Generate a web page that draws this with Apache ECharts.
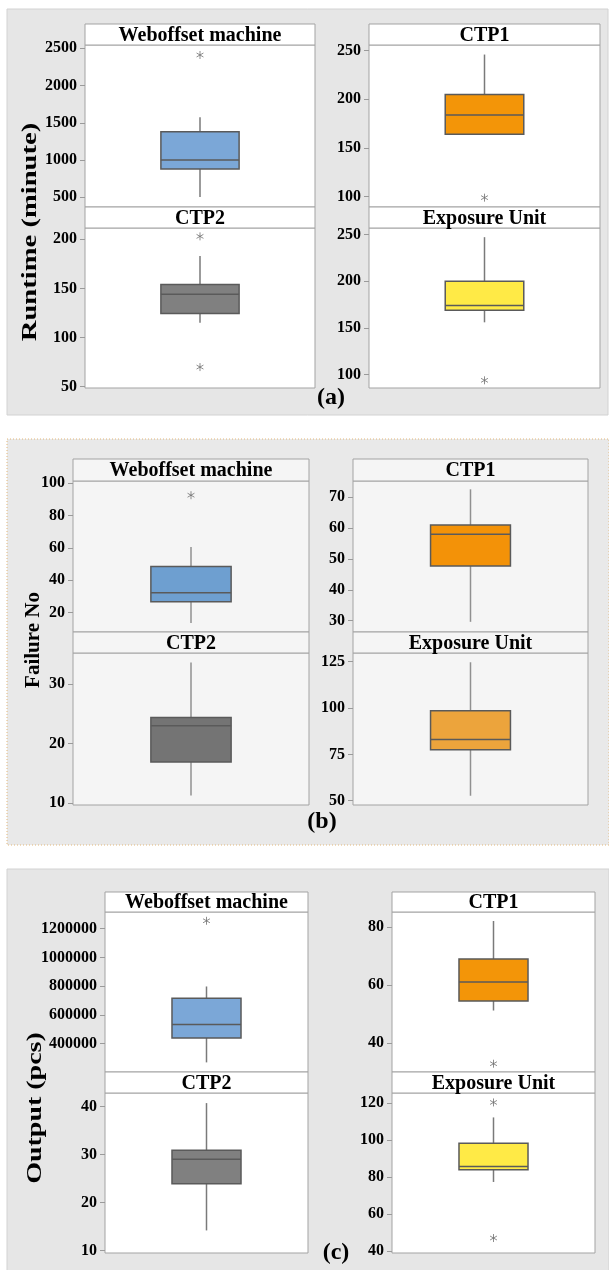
<!DOCTYPE html>
<html style="height: 100%">
<head>
<meta charset="utf-8">
<script src="https://cdn.jsdelivr.net/npm/echarts@6/dist/echarts.min.js"></script>
</head>
<body style="height: 100%; margin: 0; background: #fff">
<div id="container" style="width: 609px; height: 1270px"></div>
<script type="text/javascript">
// machines, same order in every panel: top-left, top-right, bottom-left, bottom-right
const machines = ['Weboffset machine', 'CTP1', 'CTP2', 'Exposure Unit'];
const panelTags = ['(a)', '(b)', '(c)'];
const yTitles = ['Runtime (minute)', 'Failure No', 'Output (pcs)'];

// box values: [lower whisker, Q1, median, Q3, upper whisker]
const runtimeBoxes = [
    [505, 879, 1000, 1380, 1573],
    [164, 164, 184, 205, 246],
    [115, 124.5, 144, 154, 183],
    [156, 169, 174, 200, 247]
];
const runtimeOutliers = [[2410], [99], [203, 70], [94]];
const runtimeRanges = [[370, 2544], [89.4, 255.8], [48.7, 211.5], [85.8, 256.8]];
const runtimeTicks = [
    [500, 1000, 1500, 2000, 2500],
    [100, 150, 200, 250],
    [50, 100, 150, 200],
    [100, 150, 200, 250]
];

const failureBoxes = [
    [13.4, 26.6, 32.2, 48.4, 60.6],
    [29.6, 47.7, 58, 61, 72.6],
    [11.3, 16.9, 23, 24.4, 33.6],
    [52.7, 77.5, 83, 98.5, 124.7]
];
const failureOutliers = [[92.6], [], [], []];
const failureRanges = [[7.9, 101.4], [26.3, 75.3], [9.7, 35.2], [47.7, 129.7]];
const failureTicks = [
    [20, 40, 60, 80, 100],
    [30, 40, 50, 60, 70],
    [10, 20, 30],
    [50, 75, 100, 125]
];

const outputBoxes = [
    [270000, 440000, 533000, 716000, 798000],
    [51.2, 54.5, 61, 68.9, 82],
    [14.2, 23.9, 29, 30.9, 40.7],
    [77.3, 83.9, 85.7, 98.2, 112.2]
];
const outputOutliers = [[1255000], [32.9], [], [120.3, 47]];
const outputRanges = [[203100, 1316000], [30.05, 85.1], [9.5, 42.8], [38.9, 125.4]];
const outputTicks = [
    [400000, 600000, 800000, 1000000, 1200000],
    [40, 60, 80],
    [10, 20, 30, 40],
    [40, 60, 80, 100, 120]
];

const allBoxes = [runtimeBoxes, failureBoxes, outputBoxes];
const allOutliers = [runtimeOutliers, failureOutliers, outputOutliers];
const allRanges = [runtimeRanges, failureRanges, outputRanges];
const allTicks = [runtimeTicks, failureTicks, outputTicks];

// page layout (pixels)
const layouts = [
    {bg: [7, 9, 601, 406], cols: [[85, 230], [369, 231]], rows: [[24, 45, 207], [207, 228, 388]],
     ylab: [30, 232, 22, 1.3], tag: [331, 398], plotBg: '#ffffff', panelBg: '#e6e6e6', panelLine: '#d2d2d2', dash: null,
     colors: ['#7ba7d7', '#f39508', '#808080', '#ffea46'], whisker: '#7a7a7a'},
    {bg: [7, 439, 602, 406], cols: [[73, 236], [353, 235]], rows: [[459, 481, 632], [632, 653, 805]],
     ylab: [34, 640, 21, 1.0], tag: [322, 822], plotBg: '#f5f5f5', panelBg: '#e9e9e9', panelLine: '#e2b77a', dash: [1, 2],
     colors: ['#6e9fd0', '#f39208', '#747474', '#eca43c'], whisker: '#909090'},
    {bg: [7, 869, 602, 402], cols: [[105, 203], [392, 203]], rows: [[892, 912, 1072], [1072, 1093, 1253]],
     ylab: [36, 1108, 20, 1.4], tag: [336, 1253], plotBg: '#ffffff', panelBg: '#e6e6e6', panelLine: '#d2d2d2', dash: null,
     colors: ['#7ba7d7', '#f39508', '#808080', '#ffea46'], whisker: '#7a7a7a'}
];

const serif = "'Liberation Serif', 'Times New Roman', serif";
const asterisk = 'path://M5,0L5,10M0.7,2.5L9.3,7.5M0.7,7.5L9.3,2.5';

function makeRenderBox(whiskerColor) {
    return function (params, api) {
        const x = api.value(0);
        const p = [1, 2, 3, 4, 5].map(function (i) { return api.coord([x, api.value(i)]); });
        const cx = p[0][0];
        const half = api.size([1, 0])[0] * 0.17;
        const fill = api.visual('color');
        const edge = '#5a5a5a';
        return {
            type: 'group',
            children: [
                {type: 'line', shape: {x1: cx, y1: p[0][1], x2: cx, y2: p[1][1]}, style: {stroke: whiskerColor, lineWidth: 1.5}},
                {type: 'line', shape: {x1: cx, y1: p[3][1], x2: cx, y2: p[4][1]}, style: {stroke: whiskerColor, lineWidth: 1.5}},
                {type: 'rect', shape: {x: cx - half, y: p[3][1], width: half * 2, height: p[1][1] - p[3][1]},
                 style: {fill: fill, stroke: edge, lineWidth: 1.5}},
                {type: 'line', shape: {x1: cx - half, y1: p[2][1], x2: cx + half, y2: p[2][1]}, style: {stroke: edge, lineWidth: 1.5}}
            ]
        };
    };
}

const grids = [], xAxes = [], yAxes = [], series = [], graphics = [];

for (let p = 0; p < 3; p++) {
    const L = layouts[p];
    graphics.push({
        type: 'rect', z: -10, shape: {x: L.bg[0], y: L.bg[1], width: L.bg[2], height: L.bg[3]},
        style: {fill: L.panelBg, stroke: L.panelLine, lineWidth: 1, lineDash: L.dash}
    });
    graphics.push({
        type: 'text', x: L.ylab[0], y: L.ylab[1], rotation: Math.PI / 2, scaleX: L.ylab[3],
        style: {text: yTitles[p], font: 'bold ' + L.ylab[2] + 'px ' + serif, fill: '#000',
                align: 'center', verticalAlign: 'middle', textAlign: 'center', textVerticalAlign: 'middle'}
    });
    graphics.push({
        type: 'text', x: L.tag[0], y: L.tag[1],
        style: {text: panelTags[p], font: 'bold 24px ' + serif, fill: '#000',
                align: 'center', verticalAlign: 'middle', textAlign: 'center', textVerticalAlign: 'middle'}
    });

    for (let m = 0; m < 4; m++) {
        const idx = grids.length;
        const col = L.cols[m % 2];
        const row = L.rows[Math.floor(m / 2)];
        grids.push({
            left: col[0], top: row[1], width: col[1], height: row[2] - row[1],
            show: true, backgroundColor: L.plotBg, borderColor: '#a3a3a3', borderWidth: 1,
            containLabel: false, outerBoundsMode: 'none'
        });
        // header strip with the machine name
        graphics.push({
            type: 'rect', z: 5, shape: {x: col[0], y: row[0], width: col[1], height: row[1] - row[0]},
            style: {fill: L.plotBg, stroke: '#a3a3a3', lineWidth: 1}
        });
        graphics.push({
            type: 'text', z: 6, x: col[0] + col[1] / 2, y: (row[0] + row[1]) / 2 + 1,
            style: {text: machines[m], font: 'bold 20px ' + serif, fill: '#000',
                    align: 'center', verticalAlign: 'middle', textAlign: 'center', textVerticalAlign: 'middle'}
        });

        xAxes.push({type: 'category', gridIndex: idx, data: [machines[m]], show: false});
        yAxes.push({
            type: 'value', gridIndex: idx,
            min: allRanges[p][m][0], max: allRanges[p][m][1],
            axisLine: {show: false},
            splitLine: {show: false},
            axisTick: {show: true, length: 5, customValues: allTicks[p][m], lineStyle: {color: '#9a9a9a'}},
            axisLabel: {
                customValues: allTicks[p][m], margin: 8, color: '#000',
                fontFamily: serif, fontWeight: 'bold', fontSize: 16,
                formatter: function (v) { return String(v); }
            }
        });

        const b = allBoxes[p][m];
        series.push({
            type: 'custom', xAxisIndex: idx, yAxisIndex: idx,
            renderItem: makeRenderBox(L.whisker),
            itemStyle: {color: L.colors[m]},
            encode: {x: 0, y: [1, 2, 3, 4, 5]},
            data: [[0, b[0], b[1], b[2], b[3], b[4]]],
            silent: true
        });
        if (allOutliers[p][m].length) {
            series.push({
                type: 'scatter', xAxisIndex: idx, yAxisIndex: idx,
                symbol: asterisk, symbolSize: 8, symbolKeepAspect: true,
                itemStyle: {color: 'rgba(0,0,0,0)', borderColor: '#707070', borderWidth: 1},
                data: allOutliers[p][m].map(function (v) { return [0, v]; }),
                silent: true
            });
        }
    }
}

const myChart = echarts.init(document.getElementById('container'));
const option = {
    animation: false,
    backgroundColor: '#ffffff',
    grid: grids,
    xAxis: xAxes,
    yAxis: yAxes,
    series: series,
    graphic: graphics
};
myChart.setOption(option);
</script>
</body>
</html>
